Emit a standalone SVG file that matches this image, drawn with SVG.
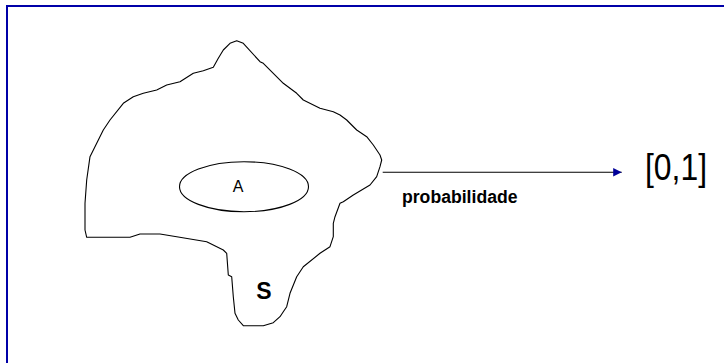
<svg xmlns="http://www.w3.org/2000/svg" width="724" height="363" viewBox="0 0 724 363">
<style>
.outline{fill:none;stroke:#000;stroke-width:1.1;stroke-linejoin:round}
.frame{fill:none;stroke:#0000a8;stroke-width:2}
.t{font-family:"Liberation Sans",Arial,sans-serif;fill:#000}
</style>
<defs>
<marker id="ah" markerWidth="9" markerHeight="9" refX="8.5" refY="4.2" orient="auto" markerUnits="userSpaceOnUse">
<path d="M0,0 L8.5,4.2 L0,8.4 Z" fill="#000099"/>
</marker>
</defs>
<rect width="724" height="363" fill="#fff"/>
<path class="frame" d="M7,363 V6 H724"/>
<g id="S">
<path class="outline" d="M230,43.3 L236.7,40.7 L243.3,43.3 L260,61.7 L263.3,63.3 L283.3,83.3 L296.7,93.3 L303.3,100 L320,108.3 L333.3,111.7 L340,115 L346.7,120 L356.7,130 L366.7,136.7 L373.3,145 L380,155 L381.7,160 L380,166.7 L376.7,176.7 L370,185 L353.3,195 L343.3,201.7 L340,203.3 L335,216.7 L333.3,223.3 L333.3,236.7 L330,246.7 L320,253.3 L303.3,266.7 L296.7,276.7 L290,293.3 L286.7,306.7 L283.3,311.7 L280,316.7 L273.3,322.7 L263.3,325.7 L243.3,325.7 L238.3,320 L235,313.3 L233.3,296.7 L231.7,276.7 L228.3,275 L226.7,253.3 L223.3,250 L206.7,241.7 L176.7,236.7 L160,234 L140,234 L130,237.3 L86.7,237.3 L85,230 L85,203.3 L86.7,180 L90,156.7 L103.3,130 L110,120 L123.3,103.3 L133.3,96.7 L143.3,93.3 L156.7,90 L166.7,85 L180,81.7 L193.3,73.3 L203.3,70.7 L213.3,67.3 L218.3,58.3 L223.3,50 Z"/>
<text class="t" x="264" y="299.3" font-size="23" font-weight="bold" text-anchor="middle">S</text>
</g>
<g id="A">
<ellipse class="outline" cx="244" cy="186.7" rx="64.5" ry="25" stroke-width="1.3"/>
<text class="t" x="238" y="192" font-size="16" text-anchor="middle">A</text>
</g>
<g id="connectors">
<line x1="382.7" y1="172.3" x2="621.7" y2="172.3" stroke="#000" stroke-width="1.1" marker-end="url(#ah)"/>
<text class="t" x="402" y="203" font-size="18" font-weight="bold" textLength="115.5" lengthAdjust="spacingAndGlyphs">probabilidade</text>
</g>
<g id="interval">
<text class="t" x="645" y="180" font-size="37" textLength="62" lengthAdjust="spacingAndGlyphs">[0,1]</text>
</g>
</svg>
